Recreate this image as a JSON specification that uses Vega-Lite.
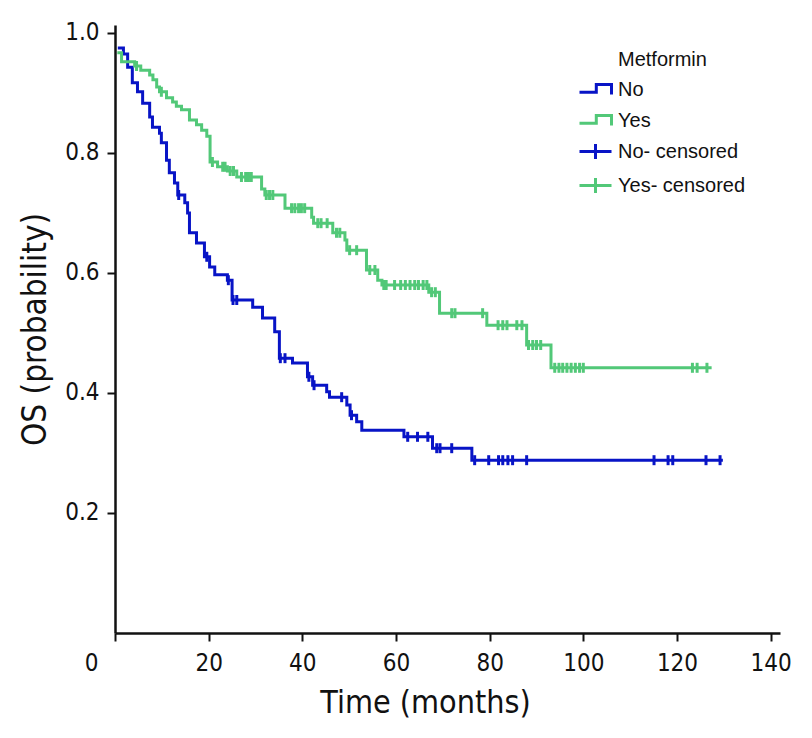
{
  "$schema": "https://vega.github.io/schema/vega-lite/v6.json",
  "width": 665,
  "height": 608,
  "autosize": {"type": "none"},
  "padding": {"left": 115, "top": 25, "right": 32, "bottom": 105},
  "background": "white",
  "config": {
    "view": {"stroke": null},
    "axis": {
      "labelFont": "Liberation Sans Narrow, DejaVu Sans Condensed, sans-serif",
      "titleFont": "Liberation Sans Narrow, DejaVu Sans Condensed, sans-serif",
      "labelColor": "#111111",
      "titleColor": "#111111",
      "titleFontWeight": "normal",
      "domainColor": "#111111",
      "tickColor": "#111111",
      "domainWidth": 2.5,
      "tickWidth": 2,
      "tickSize": 8,
      "grid": false
    },
    "legend": {
      "labelFont": "Liberation Sans, Arial, sans-serif",
      "titleFont": "Liberation Sans, Arial, sans-serif"
    }
  },
  "datasets": {
    "km": [
      {"series": "No", "time": 0.6, "surv": 0.975, "kind": "step"},
      {"series": "No", "time": 1.8, "surv": 0.965, "kind": "step"},
      {"series": "No", "time": 2.7, "surv": 0.943, "kind": "step"},
      {"series": "No", "time": 3.7, "surv": 0.917, "kind": "step"},
      {"series": "No", "time": 4.8, "surv": 0.902, "kind": "step"},
      {"series": "No", "time": 5.9, "surv": 0.883, "kind": "step"},
      {"series": "No", "time": 7.4, "surv": 0.86, "kind": "step"},
      {"series": "No", "time": 8.0, "surv": 0.843, "kind": "step"},
      {"series": "No", "time": 9.5, "surv": 0.833, "kind": "step"},
      {"series": "No", "time": 9.9, "surv": 0.817, "kind": "step"},
      {"series": "No", "time": 11.0, "surv": 0.788, "kind": "step"},
      {"series": "No", "time": 11.6, "surv": 0.767, "kind": "step"},
      {"series": "No", "time": 12.7, "surv": 0.75, "kind": "step"},
      {"series": "No", "time": 13.4, "surv": 0.73, "kind": "step"},
      {"series": "No", "time": 14.9, "surv": 0.717, "kind": "step"},
      {"series": "No", "time": 15.5, "surv": 0.7, "kind": "step"},
      {"series": "No", "time": 15.9, "surv": 0.667, "kind": "step"},
      {"series": "No", "time": 17.4, "surv": 0.65, "kind": "step"},
      {"series": "No", "time": 19.1, "surv": 0.627, "kind": "step"},
      {"series": "No", "time": 20.2, "surv": 0.61, "kind": "step"},
      {"series": "No", "time": 21.3, "surv": 0.597, "kind": "step"},
      {"series": "No", "time": 24.0, "surv": 0.588, "kind": "step"},
      {"series": "No", "time": 25.0, "surv": 0.555, "kind": "step"},
      {"series": "No", "time": 29.4, "surv": 0.543, "kind": "step"},
      {"series": "No", "time": 31.5, "surv": 0.525, "kind": "step"},
      {"series": "No", "time": 34.1, "surv": 0.502, "kind": "step"},
      {"series": "No", "time": 35.1, "surv": 0.458, "kind": "step"},
      {"series": "No", "time": 37.9, "surv": 0.45, "kind": "step"},
      {"series": "No", "time": 41.1, "surv": 0.427, "kind": "step"},
      {"series": "No", "time": 42.2, "surv": 0.413, "kind": "step"},
      {"series": "No", "time": 45.2, "surv": 0.402, "kind": "step"},
      {"series": "No", "time": 45.8, "surv": 0.393, "kind": "step"},
      {"series": "No", "time": 49.5, "surv": 0.38, "kind": "step"},
      {"series": "No", "time": 50.2, "surv": 0.363, "kind": "step"},
      {"series": "No", "time": 51.6, "surv": 0.352, "kind": "step"},
      {"series": "No", "time": 52.7, "surv": 0.338, "kind": "step"},
      {"series": "No", "time": 61.7, "surv": 0.327, "kind": "step"},
      {"series": "No", "time": 67.8, "surv": 0.308, "kind": "step"},
      {"series": "No", "time": 76.2, "surv": 0.288, "kind": "step"},
      {"series": "No", "time": 129.8, "surv": 0.288, "kind": "step"},
      {"series": "Yes", "time": 0.5, "surv": 0.967, "kind": "step"},
      {"series": "Yes", "time": 1.4, "surv": 0.952, "kind": "step"},
      {"series": "Yes", "time": 4.2, "surv": 0.945, "kind": "step"},
      {"series": "Yes", "time": 5.5, "surv": 0.938, "kind": "step"},
      {"series": "Yes", "time": 7.4, "surv": 0.93, "kind": "step"},
      {"series": "Yes", "time": 8.1, "surv": 0.922, "kind": "step"},
      {"series": "Yes", "time": 8.9, "surv": 0.91, "kind": "step"},
      {"series": "Yes", "time": 9.5, "surv": 0.902, "kind": "step"},
      {"series": "Yes", "time": 11.0, "surv": 0.892, "kind": "step"},
      {"series": "Yes", "time": 12.3, "surv": 0.885, "kind": "step"},
      {"series": "Yes", "time": 13.1, "surv": 0.878, "kind": "step"},
      {"series": "Yes", "time": 14.2, "surv": 0.872, "kind": "step"},
      {"series": "Yes", "time": 15.9, "surv": 0.855, "kind": "step"},
      {"series": "Yes", "time": 17.4, "surv": 0.847, "kind": "step"},
      {"series": "Yes", "time": 18.5, "surv": 0.838, "kind": "step"},
      {"series": "Yes", "time": 19.6, "surv": 0.828, "kind": "step"},
      {"series": "Yes", "time": 20.3, "surv": 0.785, "kind": "step"},
      {"series": "Yes", "time": 21.9, "surv": 0.777, "kind": "step"},
      {"series": "Yes", "time": 24.0, "surv": 0.77, "kind": "step"},
      {"series": "Yes", "time": 26.0, "surv": 0.76, "kind": "step"},
      {"series": "Yes", "time": 31.3, "surv": 0.74, "kind": "step"},
      {"series": "Yes", "time": 32.0, "surv": 0.73, "kind": "step"},
      {"series": "Yes", "time": 36.3, "surv": 0.708, "kind": "step"},
      {"series": "Yes", "time": 42.0, "surv": 0.693, "kind": "step"},
      {"series": "Yes", "time": 42.4, "surv": 0.683, "kind": "step"},
      {"series": "Yes", "time": 46.5, "surv": 0.667, "kind": "step"},
      {"series": "Yes", "time": 49.1, "surv": 0.655, "kind": "step"},
      {"series": "Yes", "time": 49.5, "surv": 0.638, "kind": "step"},
      {"series": "Yes", "time": 53.7, "surv": 0.605, "kind": "step"},
      {"series": "Yes", "time": 56.1, "surv": 0.588, "kind": "step"},
      {"series": "Yes", "time": 57.0, "surv": 0.58, "kind": "step"},
      {"series": "Yes", "time": 67.0, "surv": 0.568, "kind": "step"},
      {"series": "Yes", "time": 69.3, "surv": 0.533, "kind": "step"},
      {"series": "Yes", "time": 79.4, "surv": 0.513, "kind": "step"},
      {"series": "Yes", "time": 87.9, "surv": 0.48, "kind": "step"},
      {"series": "Yes", "time": 93.1, "surv": 0.442, "kind": "step"},
      {"series": "Yes", "time": 127.4, "surv": 0.442, "kind": "step"},
      {"series": "No- censored", "time": 13.6, "surv": 0.73, "kind": "censor"},
      {"series": "No- censored", "time": 19.6, "surv": 0.627, "kind": "censor"},
      {"series": "No- censored", "time": 24.2, "surv": 0.588, "kind": "censor"},
      {"series": "No- censored", "time": 25.2, "surv": 0.555, "kind": "censor"},
      {"series": "No- censored", "time": 26.0, "surv": 0.555, "kind": "censor"},
      {"series": "No- censored", "time": 35.3, "surv": 0.458, "kind": "censor"},
      {"series": "No- censored", "time": 36.3, "surv": 0.458, "kind": "censor"},
      {"series": "No- censored", "time": 41.4, "surv": 0.427, "kind": "censor"},
      {"series": "No- censored", "time": 42.5, "surv": 0.413, "kind": "censor"},
      {"series": "No- censored", "time": 48.4, "surv": 0.393, "kind": "censor"},
      {"series": "No- censored", "time": 50.5, "surv": 0.363, "kind": "censor"},
      {"series": "No- censored", "time": 62.5, "surv": 0.327, "kind": "censor"},
      {"series": "No- censored", "time": 64.6, "surv": 0.327, "kind": "censor"},
      {"series": "No- censored", "time": 66.8, "surv": 0.327, "kind": "censor"},
      {"series": "No- censored", "time": 68.7, "surv": 0.308, "kind": "censor"},
      {"series": "No- censored", "time": 69.4, "surv": 0.308, "kind": "censor"},
      {"series": "No- censored", "time": 71.9, "surv": 0.308, "kind": "censor"},
      {"series": "No- censored", "time": 76.8, "surv": 0.288, "kind": "censor"},
      {"series": "No- censored", "time": 79.8, "surv": 0.288, "kind": "censor"},
      {"series": "No- censored", "time": 81.9, "surv": 0.288, "kind": "censor"},
      {"series": "No- censored", "time": 82.8, "surv": 0.288, "kind": "censor"},
      {"series": "No- censored", "time": 83.9, "surv": 0.288, "kind": "censor"},
      {"series": "No- censored", "time": 84.9, "surv": 0.288, "kind": "censor"},
      {"series": "No- censored", "time": 87.9, "surv": 0.288, "kind": "censor"},
      {"series": "No- censored", "time": 115.1, "surv": 0.288, "kind": "censor"},
      {"series": "No- censored", "time": 118.1, "surv": 0.288, "kind": "censor"},
      {"series": "No- censored", "time": 119.1, "surv": 0.288, "kind": "censor"},
      {"series": "No- censored", "time": 126.2, "surv": 0.288, "kind": "censor"},
      {"series": "No- censored", "time": 129.2, "surv": 0.288, "kind": "censor"},
      {"series": "Yes- censored", "time": 4.6, "surv": 0.945, "kind": "censor"},
      {"series": "Yes- censored", "time": 9.9, "surv": 0.902, "kind": "censor"},
      {"series": "Yes- censored", "time": 20.8, "surv": 0.785, "kind": "censor"},
      {"series": "Yes- censored", "time": 23.0, "surv": 0.777, "kind": "censor"},
      {"series": "Yes- censored", "time": 23.5, "surv": 0.777, "kind": "censor"},
      {"series": "Yes- censored", "time": 24.6, "surv": 0.77, "kind": "censor"},
      {"series": "Yes- censored", "time": 25.3, "surv": 0.77, "kind": "censor"},
      {"series": "Yes- censored", "time": 27.0, "surv": 0.76, "kind": "censor"},
      {"series": "Yes- censored", "time": 27.9, "surv": 0.76, "kind": "censor"},
      {"series": "Yes- censored", "time": 28.5, "surv": 0.76, "kind": "censor"},
      {"series": "Yes- censored", "time": 29.1, "surv": 0.76, "kind": "censor"},
      {"series": "Yes- censored", "time": 32.3, "surv": 0.73, "kind": "censor"},
      {"series": "Yes- censored", "time": 33.0, "surv": 0.73, "kind": "censor"},
      {"series": "Yes- censored", "time": 33.7, "surv": 0.73, "kind": "censor"},
      {"series": "Yes- censored", "time": 37.7, "surv": 0.708, "kind": "censor"},
      {"series": "Yes- censored", "time": 38.4, "surv": 0.708, "kind": "censor"},
      {"series": "Yes- censored", "time": 39.2, "surv": 0.708, "kind": "censor"},
      {"series": "Yes- censored", "time": 39.8, "surv": 0.708, "kind": "censor"},
      {"series": "Yes- censored", "time": 40.5, "surv": 0.708, "kind": "censor"},
      {"series": "Yes- censored", "time": 43.3, "surv": 0.683, "kind": "censor"},
      {"series": "Yes- censored", "time": 44.0, "surv": 0.683, "kind": "censor"},
      {"series": "Yes- censored", "time": 45.3, "surv": 0.683, "kind": "censor"},
      {"series": "Yes- censored", "time": 47.3, "surv": 0.667, "kind": "censor"},
      {"series": "Yes- censored", "time": 48.0, "surv": 0.667, "kind": "censor"},
      {"series": "Yes- censored", "time": 50.1, "surv": 0.638, "kind": "censor"},
      {"series": "Yes- censored", "time": 51.6, "surv": 0.638, "kind": "censor"},
      {"series": "Yes- censored", "time": 54.4, "surv": 0.605, "kind": "censor"},
      {"series": "Yes- censored", "time": 55.5, "surv": 0.605, "kind": "censor"},
      {"series": "Yes- censored", "time": 57.4, "surv": 0.58, "kind": "censor"},
      {"series": "Yes- censored", "time": 57.9, "surv": 0.58, "kind": "censor"},
      {"series": "Yes- censored", "time": 59.7, "surv": 0.58, "kind": "censor"},
      {"series": "Yes- censored", "time": 61.0, "surv": 0.58, "kind": "censor"},
      {"series": "Yes- censored", "time": 62.0, "surv": 0.58, "kind": "censor"},
      {"series": "Yes- censored", "time": 63.0, "surv": 0.58, "kind": "censor"},
      {"series": "Yes- censored", "time": 64.0, "surv": 0.58, "kind": "censor"},
      {"series": "Yes- censored", "time": 64.8, "surv": 0.58, "kind": "censor"},
      {"series": "Yes- censored", "time": 65.8, "surv": 0.58, "kind": "censor"},
      {"series": "Yes- censored", "time": 66.6, "surv": 0.58, "kind": "censor"},
      {"series": "Yes- censored", "time": 67.6, "surv": 0.568, "kind": "censor"},
      {"series": "Yes- censored", "time": 68.4, "surv": 0.568, "kind": "censor"},
      {"series": "Yes- censored", "time": 71.9, "surv": 0.533, "kind": "censor"},
      {"series": "Yes- censored", "time": 72.6, "surv": 0.533, "kind": "censor"},
      {"series": "Yes- censored", "time": 78.5, "surv": 0.533, "kind": "censor"},
      {"series": "Yes- censored", "time": 81.8, "surv": 0.513, "kind": "censor"},
      {"series": "Yes- censored", "time": 82.8, "surv": 0.513, "kind": "censor"},
      {"series": "Yes- censored", "time": 83.7, "surv": 0.513, "kind": "censor"},
      {"series": "Yes- censored", "time": 85.8, "surv": 0.513, "kind": "censor"},
      {"series": "Yes- censored", "time": 86.9, "surv": 0.513, "kind": "censor"},
      {"series": "Yes- censored", "time": 88.3, "surv": 0.48, "kind": "censor"},
      {"series": "Yes- censored", "time": 89.2, "surv": 0.48, "kind": "censor"},
      {"series": "Yes- censored", "time": 90.0, "surv": 0.48, "kind": "censor"},
      {"series": "Yes- censored", "time": 90.9, "surv": 0.48, "kind": "censor"},
      {"series": "Yes- censored", "time": 93.9, "surv": 0.442, "kind": "censor"},
      {"series": "Yes- censored", "time": 94.8, "surv": 0.442, "kind": "censor"},
      {"series": "Yes- censored", "time": 95.6, "surv": 0.442, "kind": "censor"},
      {"series": "Yes- censored", "time": 96.5, "surv": 0.442, "kind": "censor"},
      {"series": "Yes- censored", "time": 97.4, "surv": 0.442, "kind": "censor"},
      {"series": "Yes- censored", "time": 98.3, "surv": 0.442, "kind": "censor"},
      {"series": "Yes- censored", "time": 99.2, "surv": 0.442, "kind": "censor"},
      {"series": "Yes- censored", "time": 100.0, "surv": 0.442, "kind": "censor"},
      {"series": "Yes- censored", "time": 123.3, "surv": 0.442, "kind": "censor"},
      {"series": "Yes- censored", "time": 124.3, "surv": 0.442, "kind": "censor"},
      {"series": "Yes- censored", "time": 126.4, "surv": 0.442, "kind": "censor"}
    ]
  },
  "data": {"name": "km"},
  "encoding": {
    "x": {
      "field": "time",
      "type": "quantitative",
      "scale": {"domain": [0, 142], "nice": false, "zero": false},
      "axis": {
        "title": "Time (months)",
        "values": [0, 20, 40, 60, 80, 100, 120, 140],
        "labelFontSize": 24,
        "titleFontSize": 32,
        "labelPadding": 10,
        "titlePadding": 12,
        "titleX": 310,
        "labelOffset": {"condition": {"test": "datum.value == 0", "value": -24}, "value": 0},
        "labelFlush": false
      }
    },
    "y": {
      "field": "surv",
      "type": "quantitative",
      "scale": {"domain": [0, 1.0133], "nice": false, "zero": false},
      "axis": {
        "title": "OS (probability)",
        "values": [0.2, 0.4, 0.6, 0.8, 1.0],
        "format": ".1f",
        "labelFontSize": 24,
        "titleFontSize": 33,
        "labelPadding": 8,
        "titlePadding": 12,
        "labelFlush": false
      }
    },
    "color": {
      "field": "series",
      "type": "nominal",
      "scale": {
        "domain": ["No", "Yes", "No- censored", "Yes- censored"],
        "range": ["#0814c6", "#52c878", "#0814c6", "#52c878"]
      },
      "legend": {
        "title": "Metformin",
        "orient": "none",
        "legendX": 463,
        "legendY": 25,
        "titleFontSize": 20,
        "titleFontWeight": "normal",
        "titleColor": "#111111",
        "titlePadding": 2,
        "labelFontSize": 20,
        "labelColor": "#111111",
        "labelOffset": 5,
        "symbolSize": 1024,
        "symbolStrokeWidth": 3,
        "rowPadding": 2,
        "encode": {
          "title": {"update": {"dx": {"value": 40}}},
          "symbols": {
            "update": {
              "shape": {"signal": "(datum.value == 'No' || datum.value == 'Yes') ? 'M-1,0.17H0.05V-0.32H1V0.32' : 'M-1,0H1M0,-0.47V0.47'"},
              "fill": {"value": "transparent"},
              "strokeWidth": {"value": 3}
            }
          }
        }
      }
    }
  },
  "layer": [
    {
      "transform": [{"filter": "datum.kind == 'step'"}],
      "mark": {"type": "line", "interpolate": "step-after", "strokeWidth": 3},
      "encoding": {}
    },
    {
      "transform": [{"filter": "datum.kind == 'censor'"}],
      "mark": {"type": "point", "shape": "M0,-1V1", "size": 100, "strokeWidth": 3, "filled": false, "opacity": 1},
      "encoding": {}
    }
  ]
}
